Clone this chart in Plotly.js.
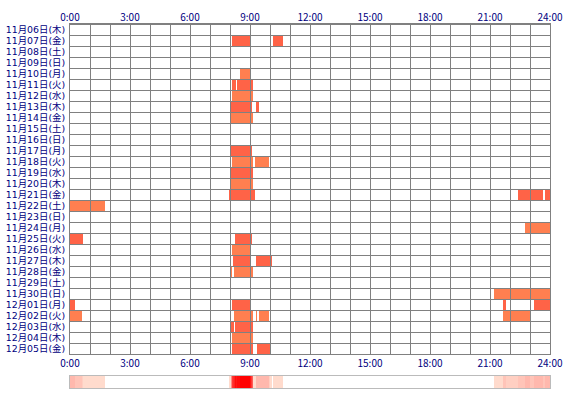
<!DOCTYPE html>
<html>
<head>
<meta charset="utf-8">
<script src="https://cdn.plot.ly/plotly-3.0.1.min.js"></script>
<style>html,body{margin:0;padding:0;background:#fff}#chart{width:570px;height:400px}</style>
</head>
<body>
<div id="chart"></div>
<script>
// Row labels (dates)
const days = ['11月06日(木)','11月07日(金)','11月08日(土)','11月09日(日)','11月10日(月)','11月11日(火)','11月12日(水)','11月13日(木)','11月14日(金)','11月15日(土)','11月16日(日)','11月17日(月)','11月18日(火)','11月19日(水)','11月20日(木)','11月21日(金)','11月22日(土)','11月23日(日)','11月24日(月)','11月25日(火)','11月26日(水)','11月27日(木)','11月28日(金)','11月29日(土)','11月30日(日)','12月01日(月)','12月02日(火)','12月03日(水)','12月04日(木)','12月05日(金)'];
// Time tick labels
const timeTicks = [0,3,6,9,12,15,18,21,24];
const timeLabels = ['0:00','3:00','6:00','9:00','12:00','15:00','18:00','21:00','24:00'];
// Sessions: row index, start, end
const sessDay   = [1,1, 4, 5,5, 6, 7,7, 8, 11, 12,12, 13, 14, 15,15,15, 16, 18, 19,19, 20, 21,21, 22,22, 24, 25,25,25,25, 26,26,26,26,26, 27,27, 28, 29,29];
const sessStart = ['08:06','10:09','08:30','08:06','08:20','08:06','08:03','09:17','08:03','08:03','08:06','09:15','08:03','08:03','07:57','22:24','23:45','00:00','22:45','00:00','08:15','08:06','08:09','09:18','08:03','08:12','21:12','00:00','08:07','21:39','23:12','00:00','08:12','09:17','09:26','21:39','08:03','08:15','08:06','08:06','09:20'];
const sessEnd   = ['08:59','10:39','09:02','08:17','09:08','09:08','09:05','09:27','09:08','09:05','09:08','09:56','09:08','09:08','09:14','23:39','24:00','01:44','24:00','00:38','09:05','09:02','08:59','10:05','08:06','09:08','24:00','00:14','09:02','21:47','24:00','00:35','09:08','09:20','09:56','23:00','08:12','09:08','09:08','09:08','09:59'];
// Bar colours alternate by row
const rowColors = ['#FF7F50','#FF6347'];

function toH(s){const p=s.split(':');return (+p[0])+(+p[1])/60;}

const starts = sessStart.map(toH);
const ends = sessEnd.map(toH);
const bars = {
  type:'bar', orientation:'h',
  y: sessDay.map(d=>d+0.5),
  base: starts,
  x: ends.map((e,i)=>e-starts[i]),
  width: sessDay.map(()=>1),
  marker:{color: sessDay.map(d=>rowColors[d%2]), line:{width:0}},
  xaxis:'x', yaxis:'y', hoverinfo:'skip', showlegend:false
};

// Heat strip: number of days active per 3-minute bin
const binMin = 3;
const nb = 1440/binMin;
const hx = [], hz = [];
for(let b=0;b<nb;b++){
  const t = (b+0.5)*binMin/60;
  let c=0;
  for(let i=0;i<starts.length;i++){ if(t>=starts[i] && t<ends[i]) c++; }
  hx.push(t); hz.push(c);
}
const zmax = Math.max(...hz);
const heat = {
  type:'heatmap', x:hx, y:[0], z:[hz],
  zmin:0, zmax:zmax,
  colorscale:[[0,'#ffffff'],[0.0001,'#ffe6d8'],[1,'#ff0000']],
  showscale:false, xaxis:'x3', yaxis:'y3', hoverinfo:'skip'
};
const topDummy = {type:'scatter', x:[0,24], y:[0,0], mode:'markers', marker:{opacity:0}, xaxis:'x2', yaxis:'y', hoverinfo:'skip', showlegend:false};

const font = {family:'"Noto Sans CJK JP", "DejaVu Sans", sans-serif', size:10, color:'#000080'};
const yfont = {family:'"DejaVu Sans", "Noto Sans CJK JP", sans-serif', size:9.4, color:'#000080'};
const grid = '#808080';
const plotW = 480, plotH = 330;
const layout = {
  width:570, height:400,
  margin:{l:70, r:20, t:24, b:12},
  paper_bgcolor:'#ffffff', plot_bgcolor:'#ffffff',
  font: font,
  showlegend:false,
  bargap:0,
  xaxis:{range:[0,24], tickmode:'array', tickvals:timeTicks, ticktext:timeLabels,
    showgrid:false, layer:'above traces',
    ticks:'inside', ticklen:plotH, tickcolor:grid, tickwidth:1,
    minor:{tickmode:'linear', tick0:0, dtick:1, showgrid:false, ticks:'inside', ticklen:plotH, tickcolor:grid, tickwidth:1},
    showline:true, linecolor:grid, linewidth:1, mirror:true, zeroline:false,
    anchor:'y', side:'bottom', tickfont:font, fixedrange:true},
  xaxis2:{matches:'x', overlaying:'x', side:'top', anchor:'y', tickmode:'array', tickvals:timeTicks, ticktext:timeLabels,
    showgrid:false, ticks:'', zeroline:false, tickfont:font, showline:false},
  yaxis:{range:[30,0], domain:[34/364,1], tickmode:'array', tickvals:days.map((d,i)=>i+0.5), ticktext:days,
    showgrid:false, layer:'above traces', ticks:'',
    minor:{tickmode:'linear', tick0:0, dtick:1, showgrid:false, ticks:'inside', ticklen:plotW, tickcolor:grid, tickwidth:1},
    showline:true, linecolor:grid, linewidth:1, mirror:true, zeroline:false, tickfont:yfont, ticklabelstandoff:2},
  xaxis3:{range:[0,24], anchor:'y3', showticklabels:false, showgrid:false, zeroline:false, ticks:'',
    showline:true, linecolor:'#bbbbbb', mirror:true},
  yaxis3:{range:[-0.5,0.5], domain:[0,12/364], anchor:'x3', showticklabels:false, showgrid:false, zeroline:false, ticks:'',
    showline:true, linecolor:'#bbbbbb', mirror:true}
};
Plotly.newPlot('chart',[bars, heat, topDummy], layout, {staticPlot:true, displayModeBar:false});
</script>
</body>
</html>
